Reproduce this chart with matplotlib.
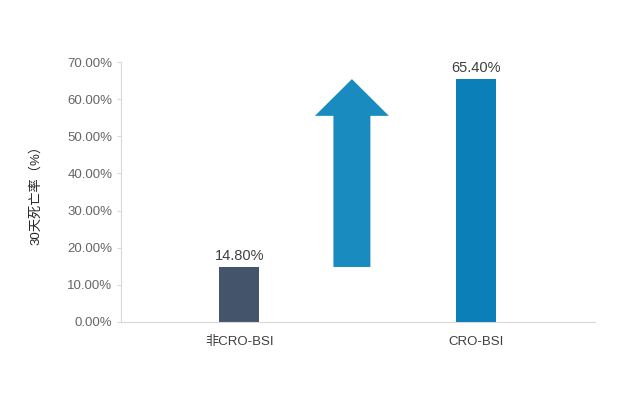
import matplotlib.pyplot as plt
from matplotlib.ticker import FuncFormatter

plt.rcParams['font.family'] = ['Liberation Sans', 'Noto Sans CJK SC', 'DejaVu Sans']

# data
categories = ['非CRO-BSI', 'CRO-BSI']
rates = [14.80, 65.40]
bar_colors = ['#44546A', '#0A7FB8']
y_ticks = [0, 10, 20, 30, 40, 50, 60, 70]

fig = plt.figure(figsize=(6.39, 3.95), dpi=100)
ax = fig.add_axes([0.189, 0.185, 0.742, 0.658])

x = list(range(len(categories)))
bars = ax.bar(x, rates, width=0.169, color=bar_colors)

for xi, v in zip(x, rates):
    ax.text(xi, v + 1.2, f'{v:.2f}%', ha='center', va='bottom',
            fontsize=10.5, color='#404040')

# arrow between the bars, from low rate up to high rate
ax.arrow(0.475, rates[0], 0, rates[1] - rates[0], width=0.156,
         head_width=0.312, head_length=9.9, length_includes_head=True,
         color='#1A8BBE', linewidth=0)

ax.set_xlim(-0.5, 1.5)
ax.set_ylim(0, 70)
ax.set_yticks(y_ticks)
ax.yaxis.set_major_formatter(FuncFormatter(lambda v, p: f'{v:.2f}%'))
ax.set_xticks(x)
ax.set_xticklabels(categories)

ax.tick_params(axis='y', colors='#D9D9D9', labelcolor='#666666',
               labelsize=9.5, length=3, direction='out', pad=3)
ax.tick_params(axis='x', length=0, labelcolor='#404040', labelsize=9.5, pad=10)

for s in ['top', 'right']:
    ax.spines[s].set_visible(False)
ax.spines['left'].set_color('#D9D9D9')
ax.spines['bottom'].set_color('#D9D9D9')

ax.set_ylabel('30天死亡率（%）', fontsize=9.5, color='#262626', labelpad=18)

plt.savefig('out.png', dpi=100)
